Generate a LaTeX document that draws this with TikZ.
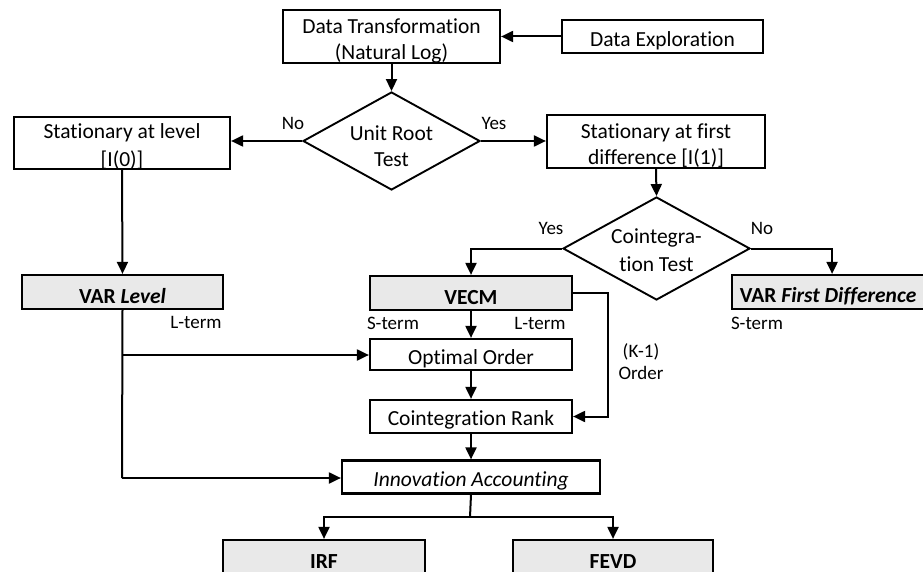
\documentclass[tikz,border=0pt]{standalone}
\usepackage{fontspec}
\setmainfont{Carlito}[Ligatures=NoCommon]
\usetikzlibrary{shapes.geometric,arrows.meta,calc}
\begin{document}
\begin{tikzpicture}[x=1pt,y=-1pt,
  box/.style={draw=black,line width=2.2pt,rectangle,inner sep=0pt,align=center,
    font=\fontsize{21.5}{26}\selectfont,execute at begin node={\rule{0pt}{22.5pt}}},
  gbox/.style={box,fill=gray!17},
  ebox/.style={draw=black,line width=2.2pt,rectangle,inner sep=0pt},
  dia/.style={draw=black,line width=1.9pt,diamond,inner sep=0pt},
  dtext/.style={align=center,inner sep=0pt,font=\fontsize{21.5}{26}\selectfont},
  lab/.style={font=\fontsize{19}{22}\selectfont,inner sep=0pt},
  conn/.style={line width=2pt,-{Triangle[length=12pt,width=11pt]}},
  line/.style={line width=2pt}]
\clip (0,0) rectangle (923,572);
\fill[white] (0,0) rectangle (923,572);
% nodes
\node[ebox,minimum width=217pt,minimum height=53pt] (dt) at (391.5,36.5) {};
\node[dtext] (dtt) at (391.5,41) {Data Transformation\\(Natural Log)};
\node[box,minimum width=201pt,minimum height=33pt] (de) at (662.5,36.5) {Data Exploration};
\node[dia,minimum width=177pt,minimum height=98pt] (ur) at (391.5,141) {};
\node[dtext] (urt) at (391.5,146) {Unit Root\\Test};
\node[ebox,minimum width=216pt,minimum height=52pt] (sal) at (122,143) {};
\node[dtext,font=\fontsize{21.5}{27.5}\selectfont] (salt) at (122,146.5) {Stationary at level\\{[}I(0){]}};
\node[ebox,minimum width=218pt,minimum height=53pt] (sfd) at (656,141.5) {};
\node[dtext] (sfdt) at (656,145.5) {Stationary at first\\difference {[}I(1){]}};
\node[dia,minimum width=187pt,minimum height=103pt] (ct) at (656.5,248.5) {};
\node[dtext,font=\fontsize{21.5}{27.5}\selectfont] (ctt) at (656.5,250) {Cointegra-\\tion Test};
\node[gbox,minimum width=201pt,minimum height=34pt] (varl) at (122.5,292) {\textbf{VAR \textit{Level}}};
\node[gbox,minimum width=202pt,minimum height=34pt] (vecm) at (471,293) {\textbf{VECM}};
\node[gbox,minimum width=192pt,minimum height=34pt,anchor=west] (vfd) at (731,292) {\textbf{VAR \textit{First Difference}}};
\node[box,minimum width=202pt,minimum height=31pt] (oo) at (471,354.5) {Optimal Order};
\node[box,minimum width=202pt,minimum height=33pt] (cr) at (471,416.5) {Cointegration Rank};
\node[box,minimum width=258pt,minimum height=33pt] (ia) at (471,477) {\textit{Innovation Accounting}};
\node[gbox,minimum width=202pt,minimum height=34pt] (irf) at (324,557) {\textbf{IRF}};
\node[gbox,minimum width=200pt,minimum height=34pt] (fevd) at (613,557) {\textbf{FEVD}};
% labels
\node[lab] (l1) at (293,123) {No};
\node[lab] (l2) at (494,123) {Yes};
\node[lab] (l3) at (551,228) {Yes};
\node[lab] (l4) at (762,228) {No};
\node[lab] (l5) at (196,322) {L-term};
\node[lab] (l6) at (393,323) {S-term};
\node[lab] (l7) at (540,323) {L-term};
\node[lab] (l8) at (757,323) {S-term};
\node[lab,align=center] (l9) at (641,362) {(K-1)\\Order};
% coordinates
\coordinate (kr) at (608,293);
\coordinate (vl1) at (122,355);
\coordinate (vl2) at (122,478);
\coordinate (split) at (470,517);
% connectors
\draw[conn] (de.west) -- (dt.east |- de.west);
\draw[conn] (dt.south) -- (ur.north);
\draw[conn] (ur.west) -- (ur.west -| sal.east);
\draw[conn] (ur.east) -- (ur.east -| sfd.west);
\draw[conn] (sfd.south) -- (ct.north);
\draw[conn] (ct.west) -| (vecm.north);
\draw[conn] (ct.east) -| ([xshift=4pt]vfd.north);
\draw[conn] (sal.south) -- (varl.north);
\draw[conn] (vecm.south) -- (oo.north);
\draw[conn] (oo.south) -- (cr.north);
\draw[conn] (vecm.east |- kr) -- (kr) |- (cr.east);
\draw[line] (varl.south) -- (vl2);
\draw[conn] (vl1) -- (oo.west |- vl1);
\draw[conn] (vl2) -- (ia.west |- vl2);
\draw[conn] (cr.south) -- (ia.north);
\draw[line] (ia.south) -- (split);
\draw[conn] (split) -| (irf.north);
\draw[conn] (split) -| (fevd.north);
\end{tikzpicture}
\end{document}
